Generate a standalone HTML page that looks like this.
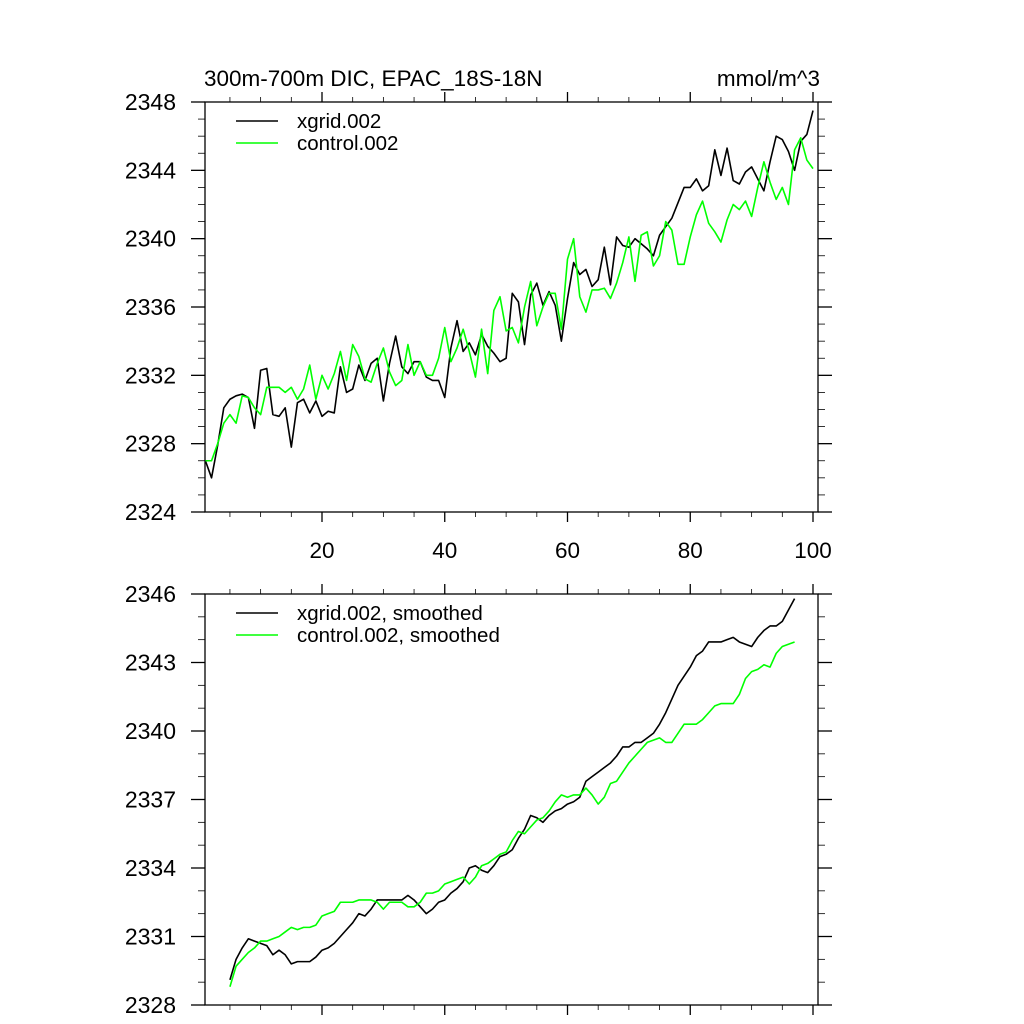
<!DOCTYPE html>
<html><head><meta charset="utf-8"><style>
html,body{margin:0;padding:0;background:#fff}
svg{display:block}
text{font-family:"Liberation Sans",Arial,sans-serif;fill:#000}
</style></head><body>
<svg id="chart" width="1024" height="1024" viewBox="0 0 1024 1024" xmlns="http://www.w3.org/2000/svg">
<text x="204" y="86" font-size="22.5">300m-700m DIC, EPAC_18S-18N</text>
<text x="820" y="86" font-size="22.5" text-anchor="end">mmol/m^3</text>
</svg>
<script>
const yearsTop = Array.from({length:100},(_, k)=>k+1);
const xgridRaw = [2327.0,2326.0,2327.9,2330.1,2330.6,2330.8,2330.9,2330.7,2328.9,2332.3,
2332.4,2329.7,2329.6,2330.1,2327.8,2330.4,2330.6,2329.8,2330.5,2329.6,
2329.9,2329.8,2332.5,2331.0,2331.2,2332.6,2331.7,2332.7,2333.0,2330.5,
2332.7,2334.3,2332.5,2332.1,2332.8,2332.8,2331.9,2331.7,2331.7,2330.7,
2333.6,2335.2,2333.4,2333.9,2333.2,2334.4,2333.7,2333.3,2332.8,2333.0,
2336.8,2336.3,2333.8,2336.7,2337.4,2336.1,2336.9,2336.1,2334.0,2336.5,
2338.6,2337.9,2338.2,2337.2,2337.6,2339.5,2337.3,2340.1,2339.6,2339.5,
2340.0,2339.7,2339.4,2339.0,2340.2,2340.7,2341.2,2342.1,2343.0,2343.0,
2343.5,2342.8,2343.1,2345.2,2343.7,2345.3,2343.4,2343.2,2343.9,2344.2,
2343.5,2342.8,2344.5,2346.0,2345.8,2345.1,2344.0,2345.7,2346.1,2347.5];
const controlRaw = [2327.0,2327.0,2328.0,2329.2,2329.7,2329.2,2330.8,2330.7,2330.1,2329.7,
2331.3,2331.3,2331.3,2331.0,2331.3,2330.6,2331.2,2332.6,2330.6,2332.0,
2331.2,2332.1,2333.4,2331.7,2333.8,2333.1,2331.8,2331.6,2332.7,2333.6,
2332.2,2331.4,2331.7,2333.8,2332.0,2332.8,2332.0,2332.0,2333.0,2334.8,
2332.8,2333.6,2334.7,2333.4,2331.9,2334.7,2332.1,2335.8,2336.6,2334.6,
2334.8,2333.9,2336.0,2337.5,2334.9,2336.0,2336.8,2336.8,2334.7,2338.8,
2340.0,2336.6,2335.7,2337.0,2337.0,2337.1,2336.5,2337.4,2338.6,2340.1,
2337.5,2340.2,2340.4,2338.4,2339.0,2341.0,2340.5,2338.5,2338.5,2340.1,
2341.4,2342.2,2340.9,2340.4,2339.8,2341.1,2342.0,2341.7,2342.2,2341.3,
2343.0,2344.5,2343.3,2342.3,2343.0,2342.0,2345.2,2345.9,2344.6,2344.1];
const yearsSmooth = Array.from({length:93},(_, k)=>k+5);
const xgridSmooth = [2329.1,2330.0,2330.5,2330.9,2330.8,2330.7,2330.6,2330.2,2330.4,2330.2,
2329.8,2329.9,2329.9,2329.9,2330.1,2330.4,2330.5,2330.7,2331.0,2331.3,
2331.6,2332.0,2331.9,2332.2,2332.6,2332.6,2332.6,2332.6,2332.6,2332.8,
2332.6,2332.3,2332.0,2332.2,2332.5,2332.6,2332.9,2333.1,2333.4,2334.0,
2334.1,2333.9,2333.8,2334.1,2334.5,2334.6,2334.8,2335.3,2335.7,2336.3,
2336.2,2336.0,2336.3,2336.5,2336.6,2336.8,2336.9,2337.1,2337.8,2338.0,
2338.2,2338.4,2338.6,2338.9,2339.3,2339.3,2339.5,2339.5,2339.7,2339.9,
2340.3,2340.8,2341.4,2342.0,2342.4,2342.8,2343.3,2343.5,2343.9,2343.9,
2343.9,2344.0,2344.1,2343.9,2343.8,2343.7,2344.1,2344.4,2344.6,2344.6,
2344.8,2345.3,2345.8];
const controlSmooth = [2328.8,2329.7,2330.0,2330.3,2330.5,2330.8,2330.8,2330.9,2331.0,2331.2,
2331.4,2331.3,2331.4,2331.4,2331.5,2331.9,2332.0,2332.1,2332.5,2332.5,
2332.5,2332.6,2332.6,2332.6,2332.5,2332.2,2332.5,2332.5,2332.5,2332.3,
2332.3,2332.5,2332.9,2332.9,2333.0,2333.3,2333.4,2333.5,2333.6,2333.3,
2333.6,2334.1,2334.2,2334.4,2334.6,2334.7,2335.2,2335.6,2335.5,2335.8,
2336.1,2336.2,2336.5,2336.9,2337.2,2337.1,2337.2,2337.2,2337.5,2337.2,
2336.8,2337.1,2337.7,2337.8,2338.2,2338.6,2338.9,2339.2,2339.5,2339.6,
2339.7,2339.5,2339.5,2339.9,2340.3,2340.3,2340.3,2340.5,2340.8,2341.1,
2341.2,2341.2,2341.2,2341.6,2342.3,2342.6,2342.7,2342.9,2342.8,2343.4,
2343.7,2343.8,2343.9];
const xTicks = [20,40,60,80,100];
const yTicksTop = [2324,2328,2332,2336,2340,2344,2348];
const yTicksBot = [2328,2331,2334,2337,2340,2343,2346];

const NS='http://www.w3.org/2000/svg';
const svg=document.getElementById('chart');
const L=205,R=818;
const xs=v=>199.25+6.1375*v;
function el(tag,attrs,parent){const e=document.createElementNS(NS,tag);for(const k in attrs)e.setAttribute(k,attrs[k]);(parent||svg).appendChild(e);return e;}

function panel(name,top,bot,ymin,ymax,yTicks,minorStep,showXLabels,series,legend){
  const g=el('g',{});
  
  
  const ys=v=>bot-(v-ymin)/(ymax-ymin)*(bot-top);
  const frame=el('rect',{x:L,y:top,width:R-L,height:bot-top,fill:'none',stroke:'#000','stroke-width':1.3},g);
  
  
  for(let v=5;v<=100;v+=5){
    const X=xs(v), maj=v%20===0, len=maj?10:5;
    el('line',{x1:X,y1:bot,x2:X,y2:bot+len,stroke:'#000','stroke-width':maj?1.3:0.8},g);
    el('line',{x1:X,y1:top,x2:X,y2:top-len,stroke:'#000','stroke-width':maj?1.3:0.8},g);
  }
  if(showXLabels){
    xTicks.forEach(t=>{
      const tx=el('text',{x:xs(t),y:bot+46,'font-size':22.5,'text-anchor':'middle'},g);
      tx.textContent=t;
      
      
    });
  }
  for(let v=ymin;v<=ymax+1e-6;v+=minorStep){
    const Y=ys(v), maj=yTicks.includes(Math.round(v)), len=maj?14:7;
    el('line',{x1:L,y1:Y,x2:L-len,y2:Y,stroke:'#000','stroke-width':maj?1.3:0.8},g);
    el('line',{x1:R,y1:Y,x2:R+len,y2:Y,stroke:'#000','stroke-width':maj?1.3:0.8},g);
  }
  yTicks.forEach(t=>{
    const tx=el('text',{x:176,y:ys(t)+8,'font-size':23,'text-anchor':'end'},g);
    tx.textContent=t;
    
    
  });
  series.forEach(s=>{
    const d=s.x.map((xv,i)=>(i?'L':'M')+xs(xv).toFixed(2)+' '+ys(s.y[i]).toFixed(2)).join(' ');
    const p=el('path',{d:d,fill:'none',stroke:s.color,'stroke-width':1.6,'stroke-linejoin':'round'},g);
    
    
  });
  legend.forEach((lg,i)=>{
    const Y=top+19+i*22;
    const ln=el('line',{x1:236,y1:Y,x2:278,y2:Y,stroke:lg.color,'stroke-width':1.6},g);
    
    
    const tx=el('text',{x:297,y:Y+7,'font-size':20.5},g);
    tx.textContent=lg.label;
    
    
  });
}
panel('top-panel',102,512,2324,2348,yTicksTop,1,true,
  [{name:'xgrid-line',x:yearsTop,y:xgridRaw,color:'#000'},{name:'control-line',x:yearsTop,y:controlRaw,color:'#00ff00'}],
  [{label:'xgrid.002',color:'#000'},{label:'control.002',color:'#00ff00'}]);
panel('bottom-panel',594,1005,2328,2346,yTicksBot,1,false,
  [{name:'xgrid-smoothed-line',x:yearsSmooth,y:xgridSmooth,color:'#000'},{name:'control-smoothed-line',x:yearsSmooth,y:controlSmooth,color:'#00ff00'}],
  [{label:'xgrid.002, smoothed',color:'#000'},{label:'control.002, smoothed',color:'#00ff00'}]);
</script>
</body></html>
